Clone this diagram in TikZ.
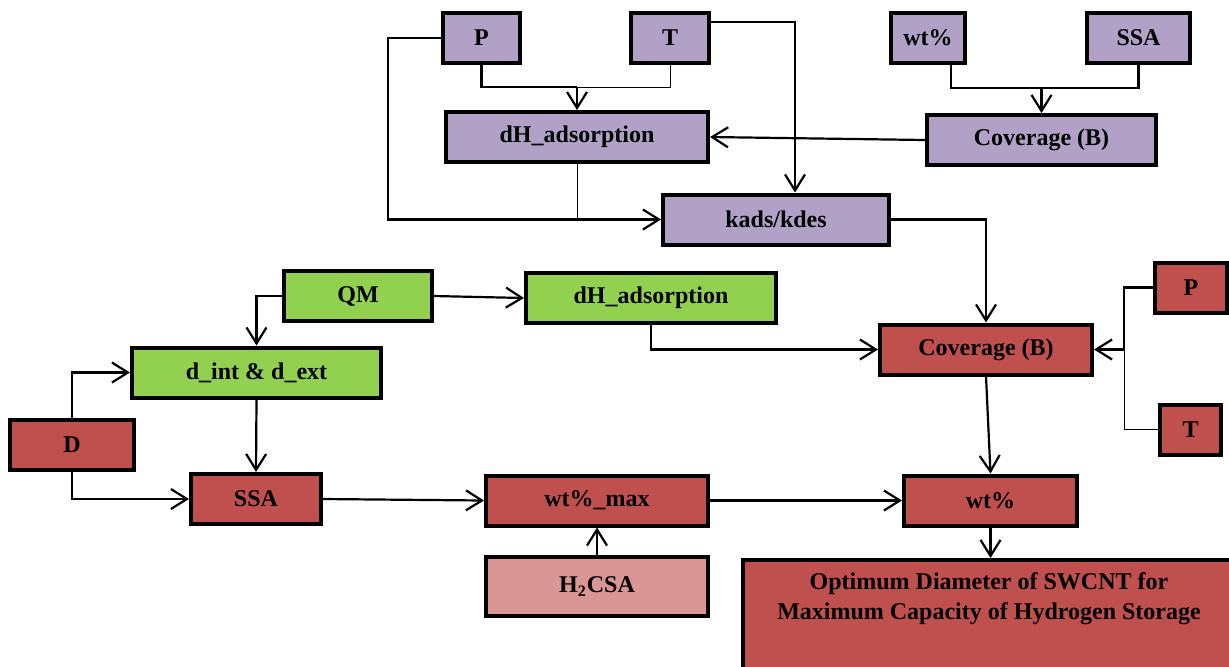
\documentclass[tikz,border=0pt]{standalone}
\usepackage{fontspec}
\setmainfont{Liberation Serif}
\usetikzlibrary{positioning,arrows.meta}
\definecolor{lav1}{HTML}{B2A1C7}
\definecolor{green1}{HTML}{92D050}
\definecolor{red1}{HTML}{C0504D}
\definecolor{pink1}{HTML}{D99694}

\begin{document}
\begin{tikzpicture}[
    x=0.5pt, y=-0.5pt,
    >={Straight Barb[length=8pt,width=10pt]},
    box/.style={draw, line width=2pt, inner sep=0pt, minimum height=25pt,
                font=\fontsize{12}{15}\selectfont\bfseries, align=center},
    lavbox/.style={box, fill=lav1},
    grnbox/.style={box, fill=green1},
    redbox/.style={box, fill=red1},
    pinkbox/.style={box, fill=pink1},
    link/.style={line width=1.1pt},
    thinlink/.style={line width=0.5pt},
    flow/.style={->, line width=1.1pt},
]

\useasboundingbox (0,0) rectangle (1229,666);
\clip (0,0) rectangle (1229,666);

% ── top row (purple) ──
\node[lavbox, minimum width=38.5pt] (Pt) at (481.5,38) {P};
\node[lavbox, minimum width=39pt] (Tt) at (670,38) {T};
\node[lavbox, minimum width=37pt] (wtt) at (928,37.5) {wt\%};
\node[lavbox, minimum width=51.5pt] (ssat) at (1138.5,37.5) {SSA};
\node[lavbox, minimum width=131pt] (dhp) at (577,137) {dH\_adsorption};
\node[lavbox, minimum width=114.5pt] (covp) at (1041.5,140) {Coverage (B)};
\node[lavbox, minimum width=113pt] (kads) at (776,219.5) {kads/kdes};

% ── middle (green) ──
\node[grnbox, minimum width=74pt] (qm) at (358,296) {QM};
\node[grnbox, minimum width=125pt] (dhg) at (651,298) {dH\_adsorption};
\node[grnbox, minimum width=124.5pt] (dint) at (256.5,372.5) {d\_int \& d\_ext};

% ── bottom (red) ──
\node[redbox, minimum width=62pt] (D) at (72,444.5) {D};
\node[redbox, minimum width=65pt] (ssar) at (256,499) {SSA};
\node[redbox, minimum width=111pt] (wtmax) at (597,500.5) {wt\%\_max};
\node[pinkbox, minimum width=111pt, minimum height=29.5pt]
    (h2csa) at (597,586.5) {H\textsubscript{2}CSA};
\node[redbox, minimum width=86.5pt] (wtr) at (990.5,500.5) {wt\%};
\node[redbox, minimum width=106pt] (covr) at (986,349.5) {Coverage (B)};
\node[redbox, minimum width=36pt] (pr) at (1191,287.5) {P};
\node[redbox, minimum width=30.5pt] (tr) at (1190.5,429.5) {T};
\node[redbox, minimum width=250pt, minimum height=60pt,
      anchor=north west] (opt) at (741,558) {};
\node[font=\fontsize{12}{15}\selectfont\bfseries, align=center]
    (opttxt) at ([xshift=-2pt,yshift=-20.5pt]opt.north)
    {Optimum Diameter of SWCNT for\\Maximum Capacity of Hydrogen Storage};

% ── top links ──
\coordinate (jpt) at (dhp.north |- 0,87);
\draw[link] (Pt.south) |- (jpt);
\draw[thinlink] (jpt) -| (Tt.south);
\draw[flow] (jpt) -- (dhp.north);
\draw[flow] (Pt.west) -- ++(-53,0) |- (kads.west);
\draw[thinlink] (dhp.south) -- (dhp.south |- kads.west);
\draw[flow] ([yshift=8pt]Tt.east) -| ([xshift=9.5pt]kads.north);
\coordinate (jws) at (covp.north |- 0,88);
\draw[link] ([xshift=11.5pt]wtt.south) |- (jws) -| (ssat.south);
\draw[flow] (jws) -- (covp.north);
\draw[flow] (covp.west) -- (dhp.east);
\draw[flow] (kads.east) -| (covr.north);

% ── middle / bottom links ──
\draw[flow] (qm.west) -| (dint.north);
\draw[flow] (qm.east) -- (dhg.west);
\draw[flow] (dhg.south) |- (covr.west);
\draw[flow] (D.north) |- (dint.west);
\draw[flow] (dint.south) -- (ssar.north);
\draw[flow] (D.south) |- (ssar.west);
\draw[flow] (ssar.east) -- (wtmax.west);
\draw[flow] (h2csa.north) -- (wtmax.south);
\draw[flow] (wtmax.east) -- (wtr.west);
\draw[flow] (covr.south) -- (wtr.north);
\draw[flow] (wtr.south) -- (wtr.south |- opt.north);

% ── right P/T ──
\coordinate (jpr) at ([xshift=15pt]covr.east);
\draw[link] (pr.west) -| (jpr);
\draw[thinlink] (jpr) |- (tr.west);
\draw[flow] (jpr) -- (covr.east);

\end{tikzpicture}
\end{document}
